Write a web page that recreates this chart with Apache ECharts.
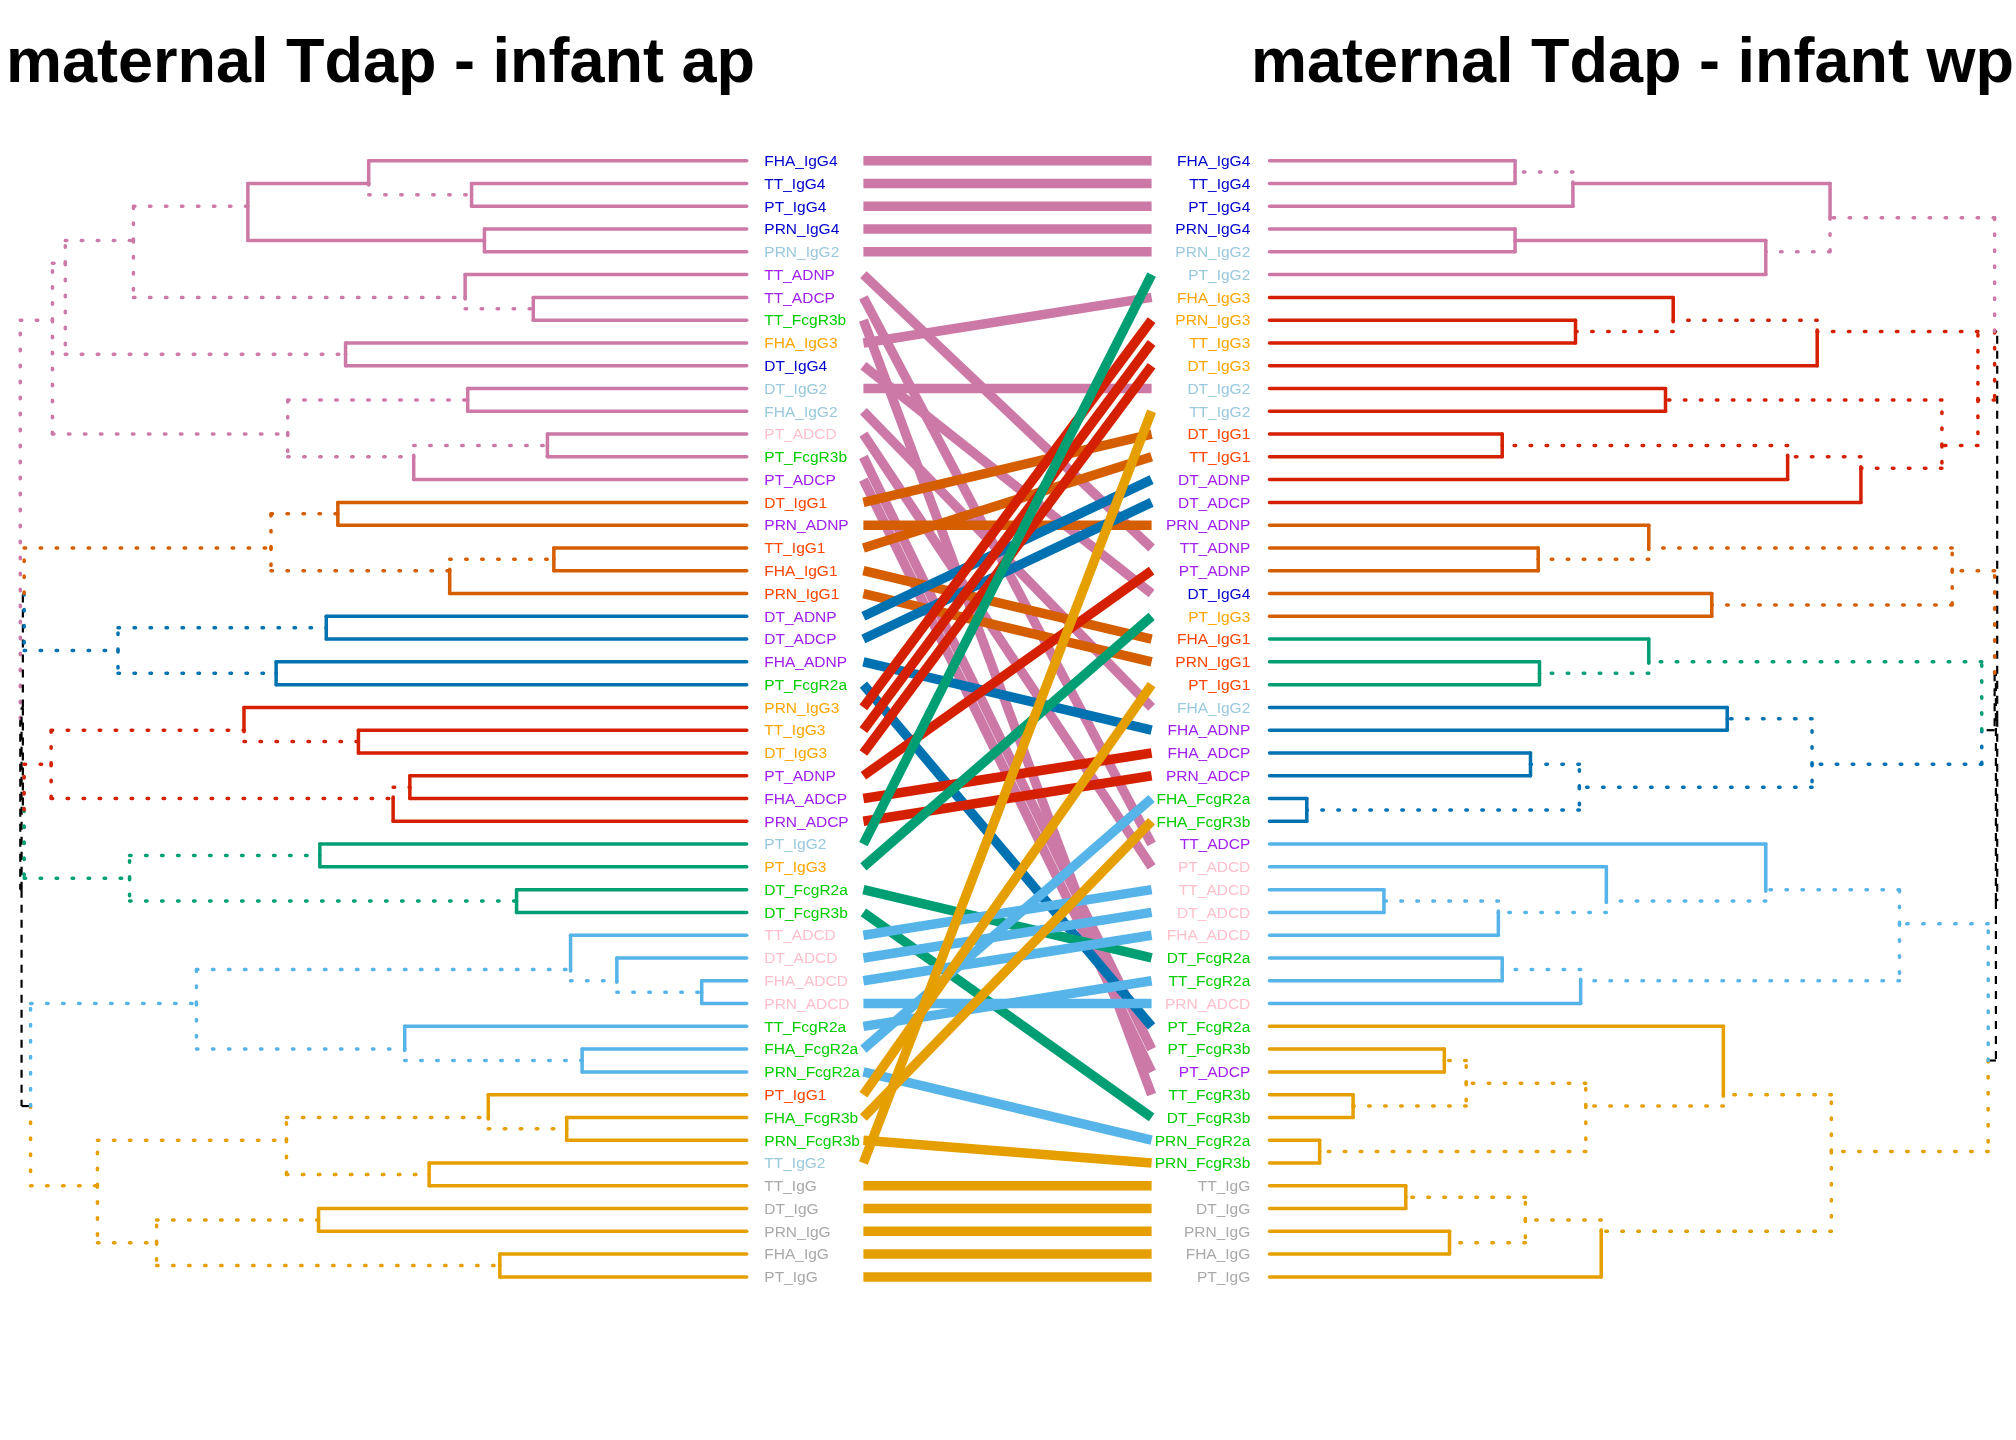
<!DOCTYPE html>
<html>
<head>
<meta charset="utf-8">
<script src="https://cdn.jsdelivr.net/npm/echarts@6/dist/echarts.min.js"></script>
<style>
  html, body { margin: 0; padding: 0; background: #fff; }
  #chart { width: 2016px; height: 1440px; }
</style>
</head>
<body>
<div id="chart"></div>
<script>
// leaf order, top to bottom
const leftLeaves = [
  'FHA_IgG4', 'TT_IgG4', 'PT_IgG4', 'PRN_IgG4', 'PRN_IgG2', 'TT_ADNP', 'TT_ADCP', 'TT_FcgR3b',
  'FHA_IgG3', 'DT_IgG4', 'DT_IgG2', 'FHA_IgG2', 'PT_ADCD', 'PT_FcgR3b', 'PT_ADCP', 'DT_IgG1',
  'PRN_ADNP', 'TT_IgG1', 'FHA_IgG1', 'PRN_IgG1', 'DT_ADNP', 'DT_ADCP', 'FHA_ADNP', 'PT_FcgR2a',
  'PRN_IgG3', 'TT_IgG3', 'DT_IgG3', 'PT_ADNP', 'FHA_ADCP', 'PRN_ADCP', 'PT_IgG2', 'PT_IgG3',
  'DT_FcgR2a', 'DT_FcgR3b', 'TT_ADCD', 'DT_ADCD', 'FHA_ADCD', 'PRN_ADCD', 'TT_FcgR2a', 'FHA_FcgR2a',
  'PRN_FcgR2a', 'PT_IgG1', 'FHA_FcgR3b', 'PRN_FcgR3b', 'TT_IgG2', 'TT_IgG', 'DT_IgG', 'PRN_IgG',
  'FHA_IgG', 'PT_IgG'
];
const rightLeaves = [
  'FHA_IgG4', 'TT_IgG4', 'PT_IgG4', 'PRN_IgG4', 'PRN_IgG2', 'PT_IgG2', 'FHA_IgG3', 'PRN_IgG3',
  'TT_IgG3', 'DT_IgG3', 'DT_IgG2', 'TT_IgG2', 'DT_IgG1', 'TT_IgG1', 'DT_ADNP', 'DT_ADCP',
  'PRN_ADNP', 'TT_ADNP', 'PT_ADNP', 'DT_IgG4', 'PT_IgG3', 'FHA_IgG1', 'PRN_IgG1', 'PT_IgG1',
  'FHA_IgG2', 'FHA_ADNP', 'FHA_ADCP', 'PRN_ADCP', 'FHA_FcgR2a', 'FHA_FcgR3b', 'TT_ADCP', 'PT_ADCD',
  'TT_ADCD', 'DT_ADCD', 'FHA_ADCD', 'DT_FcgR2a', 'TT_FcgR2a', 'PRN_ADCD', 'PT_FcgR2a', 'PT_FcgR3b',
  'PT_ADCP', 'TT_FcgR3b', 'DT_FcgR3b', 'PRN_FcgR2a', 'PRN_FcgR3b', 'TT_IgG', 'DT_IgG', 'PRN_IgG',
  'FHA_IgG', 'PT_IgG'
];

// merges: [a, b, height]; a string is a leaf, a number is an earlier merge
const leftMerges = [
  ['TT_IgG4', 'PT_IgG4', 214], ['FHA_IgG4', 0, 294], ['PRN_IgG4', 'PRN_IgG2', 204], [1, 2, 388],
  ['TT_ADCP', 'TT_FcgR3b', 166], ['TT_ADNP', 4, 219], [3, 5, 477], ['FHA_IgG3', 'DT_IgG4', 312],
  [6, 7, 530], ['DT_IgG2', 'FHA_IgG2', 217], ['PT_ADCD', 'PT_FcgR3b', 155], [10, 'PT_ADCP', 259],
  [9, 11, 357], [8, 12, 540],
  ['DT_IgG1', 'PRN_ADNP', 318], ['TT_IgG1', 'FHA_IgG1', 150], [15, 'PRN_IgG1', 231], [14, 16, 370],
  ['DT_ADNP', 'DT_ADCP', 327], ['FHA_ADNP', 'PT_FcgR2a', 366], [18, 19, 489], [17, 20, 562],
  ['TT_IgG3', 'DT_IgG3', 302], ['PRN_IgG3', 22, 391], ['PT_ADNP', 'FHA_ADCP', 262], [24, 'PRN_ADCP', 275],
  [23, 25, 541], ['PT_IgG2', 'PT_IgG3', 332], ['DT_FcgR2a', 'DT_FcgR3b', 179], [27, 28, 480],
  [26, 29, 562],
  ['FHA_ADCD', 'PRN_ADCD', 35], ['DT_ADCD', 31, 101], ['TT_ADCD', 32, 137], ['FHA_FcgR2a', 'PRN_FcgR2a', 128],
  ['TT_FcgR2a', 34, 266], [33, 35, 428], ['FHA_FcgR3b', 'PRN_FcgR3b', 140], ['PT_IgG1', 37, 201],
  ['TT_IgG2', 'TT_IgG', 247], [38, 39, 358], ['DT_IgG', 'PRN_IgG', 333], ['FHA_IgG', 'PT_IgG', 192],
  [41, 42, 459], [40, 43, 505], [36, 44, 557],
  [21, 30, 563], [46, 45, 564], [13, 47, 565]
];
const rightMerges = [
  ['FHA_IgG4', 'TT_IgG4', 191], [0, 'PT_IgG4', 236], ['PRN_IgG4', 'PRN_IgG2', 191], [2, 'PT_IgG2', 386],
  [1, 3, 436],
  ['PRN_IgG3', 'TT_IgG3', 238], ['FHA_IgG3', 5, 314], [6, 'DT_IgG3', 426], ['DT_IgG2', 'TT_IgG2', 308],
  ['DT_IgG1', 'TT_IgG1', 181], [9, 'DT_ADNP', 403], [10, 'DT_ADCP', 460], [8, 11, 523], [7, 12, 551],
  [4, 13, 564],
  ['TT_ADNP', 'PT_ADNP', 209], ['PRN_ADNP', 15, 295], ['DT_IgG4', 'PT_IgG3', 344], [16, 17, 531],
  ['PRN_IgG1', 'PT_IgG1', 210], ['FHA_IgG1', 19, 295],
  ['FHA_IgG2', 'FHA_ADNP', 356], ['FHA_ADCP', 'PRN_ADCP', 203], ['FHA_FcgR2a', 'FHA_FcgR3b', 29],
  [22, 23, 241], [21, 24, 422], [20, 25, 554], [18, 26, 564],
  ['TT_ADCD', 'DT_ADCD', 89], [28, 'FHA_ADCD', 178], ['PT_ADCD', 29, 262], ['TT_ADCP', 30, 386],
  ['DT_FcgR2a', 'TT_FcgR2a', 181], [32, 'PRN_ADCD', 242], [31, 33, 490],
  ['PT_FcgR3b', 'PT_ADCP', 136], ['TT_FcgR3b', 'DT_FcgR3b', 65], [35, 36, 153],
  ['PRN_FcgR2a', 'PRN_FcgR3b', 39], [37, 38, 246], ['PT_FcgR2a', 39, 353], ['TT_IgG', 'DT_IgG', 106],
  ['PRN_IgG', 'FHA_IgG', 140], [41, 42, 199], [43, 'PT_IgG', 258], [40, 44, 437],
  [34, 45, 559], [27, 46, 565], [14, 47, 566]
];

// clusters (k = 7), sizes in leaf order
const leftClusterSizes = [15, 5, 4, 6, 4, 7, 9];
const leftClusterColors = ['#CC79A7', '#D55E00', '#0072B2', '#D52000', '#009E73', '#56B4E9', '#E69F00'];
const rightClusterSizes = [6, 10, 5, 3, 6, 8, 12];
const rightClusterColors = ['#CC79A7', '#D52000', '#D55E00', '#009E73', '#0072B2', '#56B4E9', '#E69F00'];

// label colour by feature type
const typeColors = {
  IgG4: '#0000CD', IgG2: '#9AC8DC', IgG3: '#FFA500', IgG1: '#FF4500', IgG: '#A9A9A9',
  ADNP: '#A020F0', ADCP: '#A020F0', ADCD: '#FFC0CB', FcgR2a: '#00CD00', FcgR3b: '#00CD00'
};

const titles = ['maternal Tdap - infant ap', 'maternal Tdap - infant wp'];

function cladeSets(merges) {
  const sets = [];
  merges.forEach(([a, b]) => {
    const la = typeof a === 'string' ? [a] : sets[a];
    const lb = typeof b === 'string' ? [b] : sets[b];
    sets.push(la.concat(lb));
  });
  return sets;
}
const keyOf = list => list.slice().sort().join('|');
const mean = arr => arr.reduce((s, v) => s + v, 0) / arr.length;

function clusterMap(leaves, sizes) {
  const map = {};
  let k = 0;
  sizes.forEach((s, ci) => { for (let i = 0; i < s; i++) map[leaves[k++]] = ci; });
  return map;
}

// rectangle dendrogram edges: vertical at parent height, then horizontal to child
function treeSegments(leaves, merges, sizes, colors, otherMerges) {
  const row = {};
  leaves.forEach((n, i) => { row[n] = i + 1; });
  const cl = clusterMap(leaves, sizes);
  const sets = cladeSets(merges);
  const otherKeys = new Set(cladeSets(otherMerges).map(keyOf));
  const segs = [];
  merges.forEach((m, i) => {
    const yN = mean(sets[i].map(n => row[n]));
    const hN = m[2];
    [m[0], m[1]].forEach(c => {
      const leaf = typeof c === 'string';
      const set = leaf ? [c] : sets[c];
      const hC = leaf ? 0 : merges[c][2];
      const yC = mean(set.map(n => row[n]));
      const cs = new Set(set.map(n => cl[n]));
      const color = cs.size === 1 ? colors[[...cs][0]] : null;
      const dotted = !leaf && !otherKeys.has(keyOf(set));
      segs.push({ value: [hN, yN, hN, yC], color, dotted });
      segs.push({ value: [hN, yC, hC, yC], color, dotted });
    });
  });
  return segs.reverse();
}

const leftSegs = treeSegments(leftLeaves, leftMerges, leftClusterSizes, leftClusterColors, rightMerges);
const rightSegs = treeSegments(rightLeaves, rightMerges, rightClusterSizes, rightClusterColors, leftMerges);

// connecting lines coloured by the left tree's clusters
const leftCluster = clusterMap(leftLeaves, leftClusterSizes);
const links = leftLeaves.map((n, i) => ({
  value: [0, i + 1, 1, rightLeaves.indexOf(n) + 1],
  color: leftClusterColors[leftCluster[n]]
}));

function segRenderer(segs) {
  return function (params, api) {
    const s = segs[params.dataIndex];
    const p1 = api.coord([api.value(0), api.value(1)]);
    const p2 = api.coord([api.value(2), api.value(3)]);
    const black = !s.color;
    return {
      type: 'line',
      shape: { x1: p1[0], y1: p1[1], x2: p2[0], y2: p2[1] },
      style: {
        stroke: black ? '#000' : s.color,
        lineWidth: black ? 2.2 : 3.5,
        lineDash: black ? [8, 7] : (s.dotted ? [1.5, 14.5] : null),
        lineCap: black ? 'butt' : 'round'
      }
    };
  };
}

function labelRenderer(names, offset, align) {
  return function (params, api) {
    const p = api.coord([api.value(0), api.value(1)]);
    const name = names[params.dataIndex];
    const type = name.split('_')[1];
    return {
      type: 'text',
      style: {
        x: p[0] + offset,
        y: p[1] + 1,
        text: name,
        fill: typeColors[type],
        fontSize: 15.5,
        fontFamily: 'Liberation Sans, Arial, sans-serif',
        align: align,
        verticalAlign: 'middle'
      }
    };
  };
}

const gridTop = 160.7, gridHeight = 1116.2, treeW = 727.7;
const yBase = { type: 'value', min: 1, max: 50, inverse: true, show: false };
const titleStyle = { fontFamily: 'Liberation Sans, Arial', fontWeight: 'bold', fontSize: 63, color: '#000' };

const option = {
  animation: false,
  backgroundColor: '#fff',
  title: [
    { text: titles[0], left: 6, top: 33, padding: 0, textStyle: titleStyle },
    { text: titles[1], left: 1251, top: 33, padding: 0, textStyle: titleStyle }
  ],
  grid: [
    { left: 746.7 - treeW, top: gridTop, width: treeW, height: gridHeight },
    { left: 863.4, top: gridTop, width: 288.2, height: gridHeight },
    { left: 1269.5, top: gridTop, width: treeW, height: gridHeight }
  ],
  xAxis: [
    { gridIndex: 0, type: 'value', min: 0, max: 566, inverse: true, show: false },
    { gridIndex: 1, type: 'value', min: 0, max: 1, show: false },
    { gridIndex: 2, type: 'value', min: 0, max: 566, show: false }
  ],
  yAxis: [
    Object.assign({ gridIndex: 0 }, yBase),
    Object.assign({ gridIndex: 1 }, yBase),
    Object.assign({ gridIndex: 2 }, yBase)
  ],
  series: [
    {
      type: 'custom', xAxisIndex: 0, yAxisIndex: 0,
      data: leftSegs.map(s => s.value), renderItem: segRenderer(leftSegs)
    },
    {
      type: 'custom', xAxisIndex: 2, yAxisIndex: 2,
      data: rightSegs.map(s => s.value), renderItem: segRenderer(rightSegs)
    },
    {
      type: 'custom', xAxisIndex: 1, yAxisIndex: 1,
      data: links.map(l => l.value),
      renderItem: function (params, api) {
        const p1 = api.coord([api.value(0), api.value(1)]);
        const p2 = api.coord([api.value(2), api.value(3)]);
        return {
          type: 'line',
          shape: { x1: p1[0], y1: p1[1], x2: p2[0], y2: p2[1] },
          style: { stroke: links[params.dataIndex].color, lineWidth: 9.5, lineCap: 'butt' }
        };
      }
    },
    {
      type: 'custom', xAxisIndex: 0, yAxisIndex: 0,
      data: leftLeaves.map((n, i) => [0, i + 1]),
      renderItem: labelRenderer(leftLeaves, 17.6, 'left')
    },
    {
      type: 'custom', xAxisIndex: 2, yAxisIndex: 2,
      data: rightLeaves.map((n, i) => [0, i + 1]),
      renderItem: labelRenderer(rightLeaves, -19.2, 'right')
    }
  ]
};

const chart = echarts.init(document.getElementById('chart'));
chart.setOption(option);
window.addEventListener('resize', () => chart.resize());
</script>
</body>
</html>
